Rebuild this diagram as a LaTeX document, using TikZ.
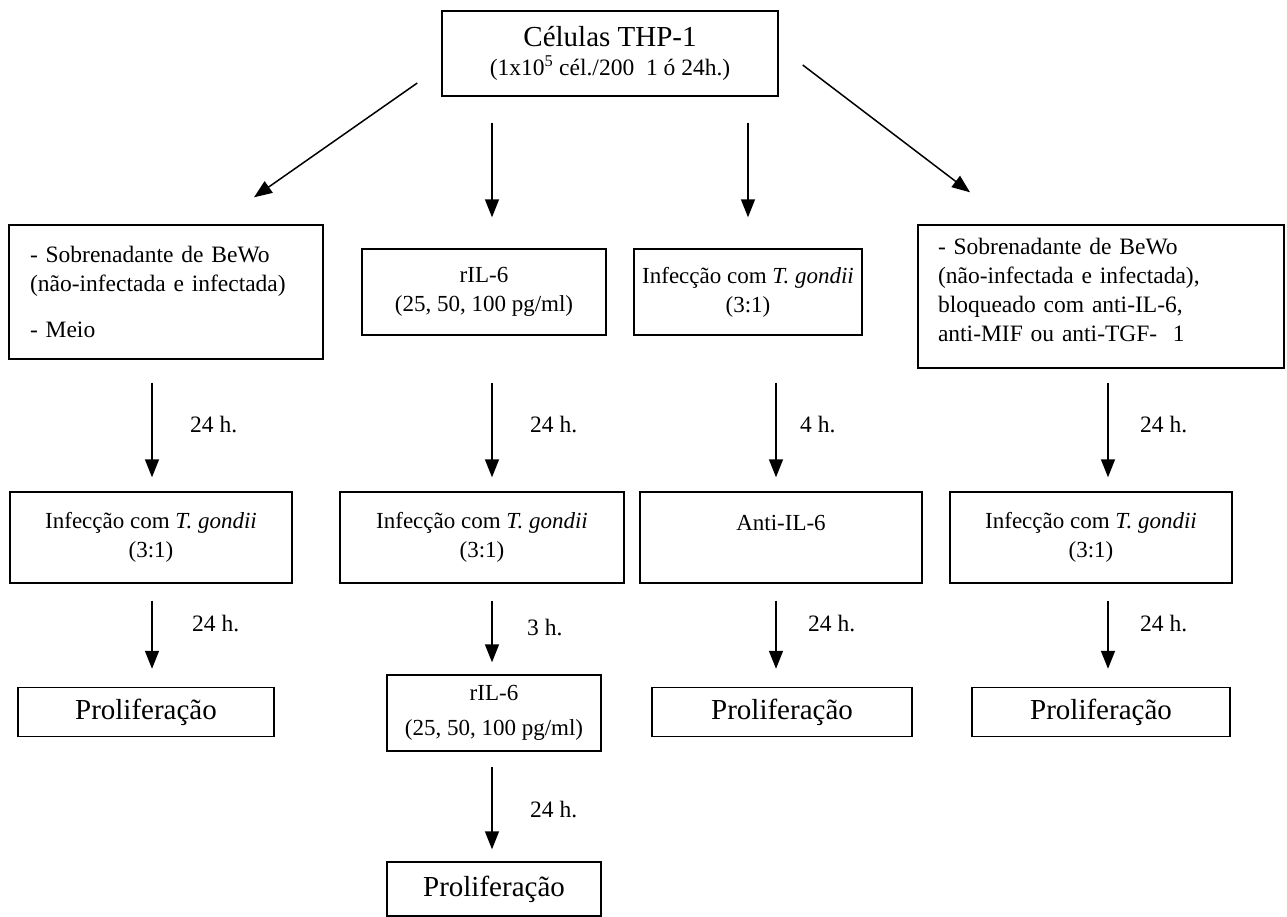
\documentclass[tikz,border=0pt]{standalone}
\usepackage{fontspec}
\setmainfont{Liberation Serif}
\usetikzlibrary{arrows.meta}
\begin{document}
\begin{tikzpicture}[x=1pt,y=-1pt,
  box/.style={draw, line width=1.4pt, inner sep=0pt, align=center, font=\fontsize{23}{29}\selectfont},
  prol/.style={box, font=\fontsize{29}{33}\selectfont},
  arr/.style={line width=1.5pt, -{Triangle[length=18pt,width=14pt]}},
  lab/.style={anchor=west, inner sep=0pt, font=\fontsize{23.5}{26}\selectfont}]
\useasboundingbox (0,0) rectangle (1287,917);
% top
\node[box, minimum width=336pt, minimum height=85pt, font=\fontsize{23.5}{29}\selectfont] (top) at (610,53.5)
  {{\fontsize{29}{33}\selectfont Células THP-1}\\(1x10\textsuperscript{5} cél./200\ \ 1 ó 24h.)};
% row 2
\node[box, minimum width=314pt, minimum height=134pt, text width=272pt, align=left, font=\fontsize{23.5}{29}\selectfont] (a2) at (166,292)
  {- Sobrenadante de BeWo\\(não-infectada e infectada)\\[17pt]- Meio};
\node[box, minimum width=244pt, minimum height=86pt] (b2) at (484,292)
  {rIL-6\\(25, 50, 100 pg/ml)};
\node[box, minimum width=228pt, minimum height=86pt] (c2) at (748,292)
  {Infecção com \textit{T. gondii}\\(3:1)};
\node[box, minimum width=366pt, minimum height=143pt, text width=326pt, align=left, font=\fontsize{23.5}{29}\selectfont] (d2) at (1101,296.5)
  {- Sobrenadante de BeWo\\(não-infectada e infectada),\\bloqueado com anti-IL-6,\\anti-MIF ou anti-TGF-\ \ 1\\[-15pt]\mbox{}};
% row 3
\node[box, minimum width=282pt, minimum height=91pt] (a3) at (151,537.5)
  {Infecção com \textit{T. gondii}\\(3:1)};
\node[box, minimum width=284pt, minimum height=91pt] (b3) at (482,537.5)
  {Infecção com \textit{T. gondii}\\(3:1)};
\node[box, minimum width=282pt, minimum height=91pt] (c3) at (781,537.5)
  {Anti-IL-6\\\mbox{}};
\node[box, minimum width=282pt, minimum height=91pt] (d3) at (1091,537.5)
  {Infecção com \textit{T. gondii}\\(3:1)};
% row 4
\node[prol, minimum width=256pt, minimum height=49pt] (a4) at (146,712) {Proliferação};
\node[box, minimum width=214pt, minimum height=76pt, font=\fontsize{23}{30}\selectfont] (b4) at (494,713)
  {rIL-6\\[5pt](25, 50, 100 pg/ml)};
\node[prol, minimum width=260pt, minimum height=49pt] (c4) at (782,712) {Proliferação};
\node[prol, minimum width=258pt, minimum height=49pt] (d4) at (1101,712) {Proliferação};
% row 5
\node[prol, minimum width=214pt, minimum height=54pt] (b5) at (494,889) {Proliferação};
% arrows from top
\draw[arr] ([shift={(-24,29.5)}]top.west) -- ([shift={(88,-27)}]a2.north);
\draw[arr] ([shift={(-118,26)}]top.south) -- ([shift={(8,-31)}]b2.north);
\draw[arr] ([shift={(138,26)}]top.south) -- ([shift={(0,-31)}]c2.north);
\draw[arr] ([shift={(24,11.5)}]top.east) -- ([shift={(-131,-32)}]d2.north);
% row 2 -> row 3
\draw[arr] ([shift={(-14,23)}]a2.south) -- ([shift={(1,-14)}]a3.north);
\draw[arr] ([shift={(8,47)}]b2.south) -- ([shift={(10,-14)}]b3.north);
\draw[arr] ([shift={(28,47)}]c2.south) -- ([shift={(-5,-14)}]c3.north);
\draw[arr] ([shift={(7,14)}]d2.south) -- ([shift={(17,-14)}]d3.north);
\node[lab] (l1) at (190,425) {24 h.};
\node[lab] (l2) at (530,425) {24 h.};
\node[lab] (l3) at (800,425) {4 h.};
\node[lab] (l4) at (1140,425) {24 h.};
% row 3 -> row 4
\draw[arr] ([shift={(1,17)}]a3.south) -- ([shift={(6,-18)}]a4.north);
\draw[arr] ([shift={(10,17)}]b3.south) -- ([shift={(-2,-12)}]b4.north);
\draw[arr] ([shift={(-5,17)}]c3.south) -- ([shift={(-6,-18)}]c4.north);
\draw[arr] ([shift={(17,17)}]d3.south) -- ([shift={(7,-18)}]d4.north);
\node[lab] (l5) at (192,624) {24 h.};
\node[lab] (l6) at (527,628) {3 h.};
\node[lab] (l7) at (808,624) {24 h.};
\node[lab] (l8) at (1140,624) {24 h.};
% row 4 -> row 5
\draw[arr] ([shift={(-2,15)}]b4.south) -- ([shift={(-2,-12)}]b5.north);
\node[lab] (l9) at (530,810) {24 h.};
\end{tikzpicture}
\end{document}
